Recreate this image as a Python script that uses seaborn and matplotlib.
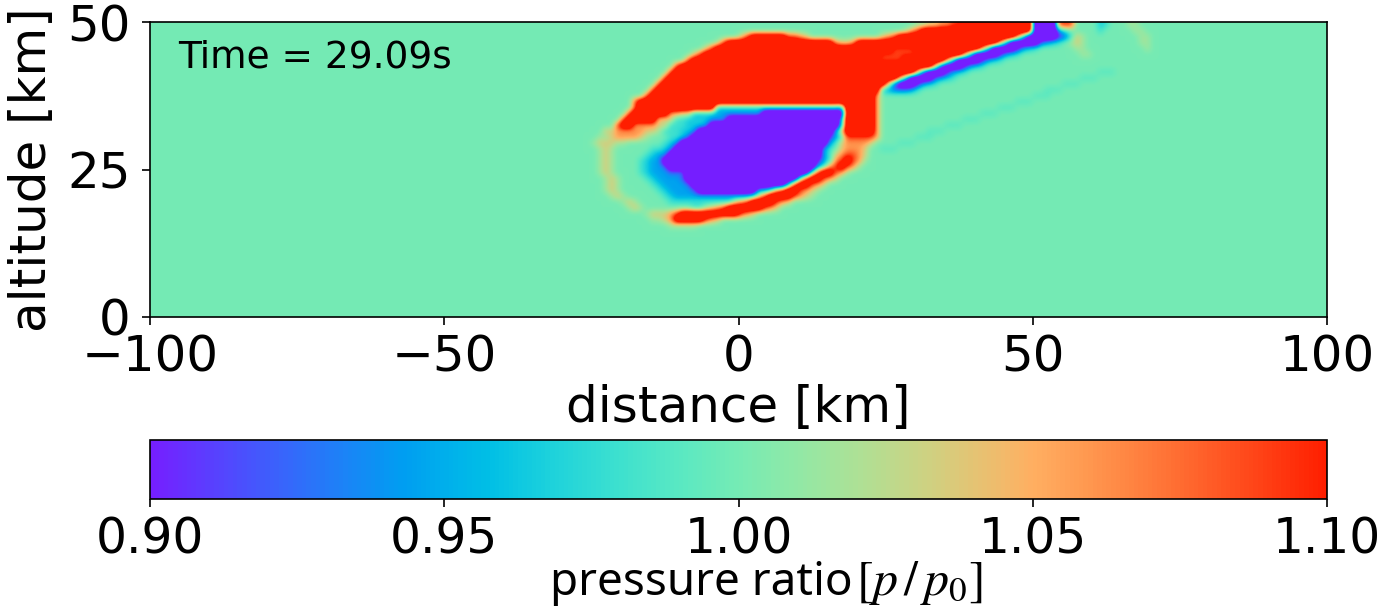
import numpy as np
import matplotlib
matplotlib.use("Agg")
import matplotlib.pyplot as plt
from matplotlib.colors import ListedColormap
import seaborn as sns

# ---------------------------------------------------------------------------
# Pressure-ratio field p/p0 on a 1 km grid.  Outside the sketched window the
# atmosphere is undisturbed (p/p0 = 1).  Each character of a row is one cell;
# the key below gives the pressure ratio of each character.
# ---------------------------------------------------------------------------
level_codes = ['V', 'v', 'B', 'b', 'C', 'c', 'q', '.', 'g', 'y', 'o', 'r', 'R']
level_values = [0.84, 0.90, 0.925, 0.945, 0.965, 0.98, 0.99, 1.00,
                1.015, 1.035, 1.06, 1.09, 1.16]

window_x0_km = -28      # left edge of the sketched window
window_top_km = 50      # top edge of the sketched window
window_cols = 100

D = ".........."
R10 = "RRRRRRRRRR"
V10 = "VVVVVVVVVV"
field_rows = [
    [D, D, D, D, D, "........gg", "yyoorrRRRR", "RRRRRRRRVV", "VVrrr....C", "c...gg...."],
    [D, D, D, D, D, "......gorR", R10, "RRRRRRRRVV", "VVbc.....c", ".....gg..."],
    [D, D, "........yr", "RRRRRRrroy", D, "..yorRRRRR", R10, "RRRRRoCVVV", "VVvBcyg...", "......gg.."],
    [D, D, "....grRRRR", R10, "RRRRoyyoRR", R10, R10, "RRoCVVVVVB", "bCc.gyg...", "......gg.."],
    [D, D, "..yrRRRRRR", R10, R10, "RRRRrrrrRR", "RRRRRRRRRo", "CVVVVvbCc.", ".....gg...", ".......g.."],
    [D, D, "yrRRRRRRRR", R10, R10, "RRrrrrrrrR", "RRRRRRoCVV", "VVvbCc....", "......gg..", D],
    [D, ".........r", R10, R10, R10, "RrrrrrRRRR", "RRRoCVVVVv", "bCc.......", D, D],
    [D, ".......rRR", R10, R10, R10, R10, "RyvVVVvbCc", D, D, D],
    [D, "......rRRR", R10, R10, R10, "RRRRRRRRyB", "VVVvbCc...", D, ".........q", "qq........"],
    [D, ".....rRRRR", R10, R10, R10, "RRRRRoCVVV", "VBbCc.....", D, "......qqq.", D],
    [D, "....rRRRRR", R10, R10, R10, "RRRyBVVVvb", "Cc........", D, "...qqq....", D],
    [D, "...rRRRRRR", R10, R10, R10, "RRCbBBBbc.", D, D, "qqq.......", D],
    [D, "..rRRRRRRR", R10, R10, R10, "Ro........", D, "........qq", "q.........", D],
    [D, "rRRRRRRRRR", R10, R10, R10, "Ro........", D, ".....qqq..", D, D],
    [D, "rRRRRRRRRR", "RRRRCCCCCC", "CCCCCCCCCC", "CCCCCbRRRR", "Ro........", D, "..qqq.....", D, D],
    [".........r", "RRRRRRooyy", "CCCCbbbbbb", "bbVVVVVVVV", "VVVVVVRRRR", "Ro........", ".........q", "qq........", D, D],
    ["........rR", "RRRRyyyccC", "CCCbbbVVVV", V10, "VVVVVbRRRR", "Ro........", "......qqq.", D, D, D],
    [".......rRR", "ooooyycccC", "CCbVVVVVVV", V10, "VVVVVbRRRR", "Ro........", "...qqq....", D, D, D],
    [".....yyooo", "ooyygcccCC", "bVVVVVVVVV", V10, "VVVVbyRRRR", "Ro........", "qqq.......", D, D, D],
    ["....ggyooo", "oyg...ccCB", V10, V10, "VVVvbcrrrr", "ro......qq", "q.........", D, D, D],
    ["...gyyygg.", ".....cCbVV", V10, V10, "VVVbcyoooo", "y....qqq..", D, D, D, D],
    ["....gyg...", "...ccCbVVV", V10, V10, "VVbc.yoooy", "..qqq.....", D, D, D, D],
    ["....gyg...", "..cCbbVVVV", V10, V10, "VVbcyorroy", D, D, D, D, D],
    ["....gyg...", ".cCbbVVVVV", V10, V10, "VvbcorRrog", D, D, D, D, D],
    ["....gyg...", ".cCbbBVVVV", V10, V10, "VbcorRrog.", D, D, D, D, D],
    ["....gyg...", ".cCbbbBBBV", V10, V10, "crRRrog...", D, D, D, D, D],
    [".....gyg..", "..cCbbbbBV", V10, "VVVVVVVVcr", "RRroy.....", D, D, D, D, D],
    [".....gyg..", "...cCbbbbB", V10, "VVVVVVbrRR", "roy.......", D, D, D, D, D],
    [".....gyg..", "....cCbbbb", "BVVVVVVVVV", "VbbcorRRro", "yg........", D, D, D, D, D],
    ["......gyg.", ".....cCbbb", "bbbbbbbbbb", "CyrRRRRroy", "g.........", D, D, D, D, D],
    ["........gy", "g.....cccc", "cccccccyor", "RRRRroy...", D, D, D, D, D, D],
    [".........g", "yg........", "ccgyorRRRR", "RRroy.....", D, D, D, D, D, D],
    [D, "..gyyyorRR", "RRRRRRRRro", "y.........", D, D, D, D, D, D],
    [D, "...ggyoRRR", "RRroy.....", D, D, D, D, D, D, D],
    [D, "......gggg", "g.........", D, D, D, D, D, D, D],
]

# domain and axis ticks
x_range = (-100, 100)
alt_range = (0, 50)
x_ticks = [-100, -50, 0, 50, 100]
alt_ticks = [0, 25, 50]
cbar_ticks = [0.90, 0.95, 1.00, 1.05, 1.10]
p_min, p_max = 0.90, 1.10
time_label = "Time = 29.09s"

# ---------------------------------------------------------------------------
# assemble the full grid (rows from the top of the domain down)
# ---------------------------------------------------------------------------
value_of = dict(zip(level_codes, level_values))
n_rows = alt_range[1] - alt_range[0]
n_cols = x_range[1] - x_range[0]
field = np.ones((n_rows, n_cols))
col0 = window_x0_km - x_range[0]
row0 = alt_range[1] - window_top_km
for r, groups in enumerate(field_rows):
    cells = "".join(groups)[:window_cols].ljust(window_cols, ".")
    for c, ch in enumerate(cells):
        field[row0 + r, col0 + c] = value_of[ch]

# ---------------------------------------------------------------------------
# figure
# ---------------------------------------------------------------------------
sns.set_theme(style="ticks")
plt.rcParams["font.family"] = ["DejaVu Sans"]
plt.rcParams["mathtext.fontset"] = "stix"
plt.rcParams["text.color"] = "black"
plt.rcParams["axes.labelcolor"] = "black"
plt.rcParams["xtick.color"] = "black"
plt.rcParams["ytick.color"] = "black"
plt.rcParams["axes.edgecolor"] = "black"

# rainbow palette, slightly softened in the red and green channels
base = np.array(sns.color_palette("rainbow", 256))
soft = base.copy()
soft[:, 0] = np.clip(1.08 * base[:, 0] - 0.08, 0, 1)
soft[:, 1] = 0.12 + 0.80 * base[:, 1]
cmap = ListedColormap(soft, name="rainbow_soft")

W, H = 1380, 610
fig = plt.figure(figsize=(W / 100, H / 100), dpi=100)
fig.patch.set_facecolor("white")

ax = fig.add_axes([150 / W, 1 - 317 / H, 1177 / W, 295 / H])
im = ax.imshow(field, cmap=cmap, vmin=p_min, vmax=p_max,
               extent=(x_range[0], x_range[1], alt_range[0], alt_range[1]),
               origin="upper", interpolation="bicubic",
               interpolation_stage="data", aspect="auto")
ax.set_xlim(*x_range)
ax.set_ylim(*alt_range)
ax.set_xticks(x_ticks)
ax.set_yticks(alt_ticks)
ax.tick_params(axis="both", labelsize=36, length=6, width=1.2, color="black")
ax.tick_params(axis="x", pad=6)
ax.tick_params(axis="y", pad=8)
for sp in ax.spines.values():
    sp.set_linewidth(1.2)
    sp.set_color("black")
ax.set_xlabel("distance [km]", fontsize=36, labelpad=2)
ax.set_ylabel("altitude [km]", fontsize=36, labelpad=8)
ax.text(0.024, 0.845, time_label, transform=ax.transAxes,
        fontsize=27, va="baseline", ha="left", color="black")

cax = fig.add_axes([150 / W, 1 - 499 / H, 1177 / W, 59 / H])
cbar = fig.colorbar(im, cax=cax, orientation="horizontal", ticks=cbar_ticks,
                    format="%.2f")
cbar.outline.set_linewidth(1.2)
cbar.outline.set_edgecolor("black")
cax.tick_params(labelsize=35, length=6, width=1.2, pad=6, color="black")

# colour-bar caption: plain words plus the ratio in math italics
fig.text(853 / W, 1 - 595 / H, "pressure ratio", ha="right", va="baseline",
         fontsize=33, family=["Noto Sans", "DejaVu Sans"], color="black")
fig.text(856 / W, 1 - 595 / H, r"$[p\,/\,p_0]$", ha="left", va="baseline",
         fontsize=36, color="black")

fig.savefig("out.png", dpi=100, facecolor="white")
